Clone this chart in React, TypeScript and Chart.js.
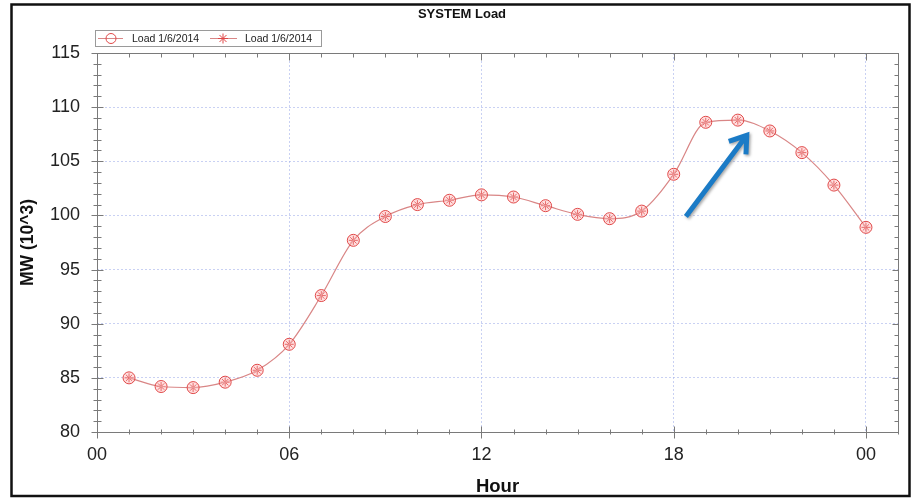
import React, { useEffect, useRef } from "react";
import { Chart, registerables } from "chart.js";

Chart.register(...registerables);

// ---- data ----
const HOURS = [1, 2, 3, 4, 5, 6, 7, 8, 9, 10, 11, 12, 13, 14, 15, 16, 17, 18, 19, 20, 21, 22, 23, 24];
const LOAD = [85.0, 84.2, 84.1, 84.6, 85.7, 88.1, 92.6, 97.7, 99.9, 101.0, 101.4, 101.9, 101.7, 100.9, 100.1, 99.7, 100.4, 103.8, 108.6, 108.8, 107.8, 105.8, 102.8, 98.9];
const SERIES_LABELS = ["Load 1/6/2014", "Load 1/6/2014"];
const X_TICKS = [0, 6, 12, 18, 24];
const X_TICK_LABELS = ["00", "06", "12", "18", "00"];
const X_MIN = 0;
const X_MAX = 25;
const Y_MIN = 80;
const Y_MAX = 115;
const Y_STEP = 5;
const MINOR_STEP = 1;
const X_MAJOR_EVERY = 6;
const TITLE = "SYSTEM Load";
const X_TITLE = "Hour";
const Y_TITLE = "MW (10^3)";
// annotation arrow, in data coordinates [hour, MW]
const ARROW_FROM = [18.38, 99.9];
const ARROW_TO = [20.28, 107.4];

const FONT = "'Liberation Sans', Arial, Helvetica, sans-serif";
const LINE_COLOR = "#d98686";
const MARK_COLOR = "#e04848";
const GRID_COLOR = "rgba(165,178,235,0.6)";
const AXIS_COLOR = "#7a7a7a";

const decorPlugin = {
  id: "decor",
  afterDraw(chart: any) {
    const ctx: CanvasRenderingContext2D = chart.ctx;
    const { left, right, top, bottom } = chart.chartArea;
    const xs = chart.scales.x;
    const ys = chart.scales.y;
    ctx.save();
    // title
    ctx.fillStyle = "#111";
    ctx.font = `bold 13px ${FONT}`;
    ctx.textAlign = "center";
    ctx.textBaseline = "middle";
    ctx.fillText(TITLE, 462, 14.5);

    // axes frame
    ctx.strokeStyle = AXIS_COLOR;
    ctx.lineWidth = 1;
    const L = Math.round(left) + 0.5;
    const R = Math.round(right) + 0.5;
    const T = Math.round(top) + 0.5;
    const B = Math.round(bottom) + 0.5;
    ctx.strokeRect(L, T, R - L, B - T);
    ctx.beginPath();
    for (let h = X_MIN; h <= X_MAX; h += MINOR_STEP) {
      const x = Math.round(xs.getPixelForValue(h)) + 0.5;
      const major = h % X_MAJOR_EVERY === 0;
      const up = major ? 6 : 3;
      const down = major ? 6 : 2;
      ctx.moveTo(x, B - up);
      ctx.lineTo(x, B + down);
      ctx.moveTo(x, T);
      ctx.lineTo(x, T + (major ? 7 : 4));
    }
    for (let v = Y_MIN; v <= Y_MAX; v += MINOR_STEP) {
      const y = Math.round(ys.getPixelForValue(v)) + 0.5;
      const major = v % Y_STEP === 0;
      const out = major ? 6 : 4;
      const inn = major ? 6 : 4;
      ctx.moveTo(L - out, y);
      ctx.lineTo(L + inn, y);
      ctx.moveTo(R, y);
      ctx.lineTo(R - (major ? 6 : 4), y);
    }
    ctx.stroke();

    // legend
    const lx = 95.5, ly = 30.5, lw = 226, lh = 16;
    ctx.strokeStyle = "#9a9a9a";
    ctx.strokeRect(lx, ly, lw, lh);
    const cy = ly + lh / 2;
    const items = [
      { x0: 98, x1: 123, mx: 111, text: 132, style: "circle" },
      { x0: 210, x1: 237, mx: 223, text: 245, style: "star" },
    ];
    chart.data.datasets.forEach((ds: any, i: number) => {
      const it = items[i];
      if (!it) return;
      ctx.strokeStyle = LINE_COLOR;
      ctx.lineWidth = 1;
      ctx.beginPath();
      ctx.moveTo(it.x0, cy);
      ctx.lineTo(it.x1, cy);
      ctx.stroke();
      ctx.strokeStyle = MARK_COLOR;
      ctx.beginPath();
      if (it.style === "circle") {
        ctx.arc(it.mx, cy, 5, 0, Math.PI * 2);
      } else {
        const r = 5;
        ctx.moveTo(it.mx - r, cy);
        ctx.lineTo(it.mx + r, cy);
        ctx.moveTo(it.mx, cy - r);
        ctx.lineTo(it.mx, cy + r);
        const d = r * 0.707;
        ctx.moveTo(it.mx - d, cy - d);
        ctx.lineTo(it.mx + d, cy + d);
        ctx.moveTo(it.mx - d, cy + d);
        ctx.lineTo(it.mx + d, cy - d);
      }
      ctx.stroke();
      ctx.fillStyle = "#222";
      ctx.font = `10.5px ${FONT}`;
      ctx.textBaseline = "middle";
      ctx.textAlign = "left";
      ctx.fillText(ds.label, it.text, cy + 0.5);
    });

    // arrow annotation
    const ax0 = xs.getPixelForValue(ARROW_FROM[0]);
    const ay0 = ys.getPixelForValue(ARROW_FROM[1]);
    const ax1 = xs.getPixelForValue(ARROW_TO[0]);
    const ay1 = ys.getPixelForValue(ARROW_TO[1]);
    const ang = Math.atan2(ay1 - ay0, ax1 - ax0);
    ctx.save();
    ctx.shadowColor = "rgba(0,0,0,0.35)";
    ctx.shadowBlur = 3;
    ctx.shadowOffsetX = 1.5;
    ctx.shadowOffsetY = 1.5;
    ctx.strokeStyle = "#1b7bc6";
    ctx.lineWidth = 5;
    ctx.lineCap = "butt";
    ctx.lineJoin = "miter";
    ctx.beginPath();
    ctx.moveTo(ax0, ay0);
    ctx.lineTo(ax1 - Math.cos(ang) * 3, ay1 - Math.sin(ang) * 3);
    const hl = 19;
    const spread = 0.6;
    ctx.moveTo(ax1 - hl * Math.cos(ang - spread), ay1 - hl * Math.sin(ang - spread));
    ctx.lineTo(ax1, ay1);
    ctx.lineTo(ax1 - hl * Math.cos(ang + spread), ay1 - hl * Math.sin(ang + spread));
    ctx.stroke();
    ctx.restore();

    // outer frame
    ctx.strokeStyle = "#111";
    ctx.lineWidth = 2.5;
    ctx.strokeRect(11.5, 4.5, 898, 491.5);
    ctx.restore();
  },
};

export default function App() {
  const ref = useRef<HTMLCanvasElement>(null);
  useEffect(() => {
    if (!ref.current) return;
    const points = HOURS.map((h, i) => ({ x: h, y: LOAD[i] }));
    const chart = new Chart(ref.current, {
      type: "line",
      data: {
        datasets: [
          {
            label: SERIES_LABELS[0],
            data: points,
            borderColor: LINE_COLOR,
            borderWidth: 1.2,
            cubicInterpolationMode: "monotone",
            pointStyle: "circle",
            pointRadius: 6,
            pointBorderWidth: 1,
            pointBorderColor: MARK_COLOR,
            pointBackgroundColor: "rgba(255,185,185,0.45)",
            fill: false,
          },
          {
            label: SERIES_LABELS[1],
            data: points,
            showLine: false,
            borderColor: LINE_COLOR,
            pointStyle: "star",
            pointRadius: 4.5,
            pointBorderWidth: 1,
            pointBorderColor: "#d42a2a",
            pointBackgroundColor: "#d42a2a",
            fill: false,
          },
        ],
      },
      options: {
        animation: false,
        responsive: false,
        events: [],
        layout: { padding: { left: 0, right: 14, top: 53, bottom: 0 } },
        plugins: {
          legend: { display: false },
          tooltip: { enabled: false },
          title: { display: false },
        },
        scales: {
          x: {
            type: "linear",
            min: X_MIN,
            max: X_MAX,
            afterBuildTicks: (s: any) => {
              s.ticks = X_TICKS.map((v) => ({ value: v }));
            },
            afterFit: (s: any) => {
              s.height = 66;
            },
            ticks: {
              callback: (_v: any, i: number) => X_TICK_LABELS[i],
              font: { family: FONT, size: 18 },
              color: "#222",
              padding: 12,
              maxRotation: 0,
              autoSkip: false,
            },
            grid: { color: GRID_COLOR, drawTicks: false, lineWidth: 1 },
            border: { display: false, dash: [2, 2] },
            title: {
              display: true,
              text: X_TITLE,
              color: "#111",
              font: { family: FONT, size: 18.5, weight: "bold" },
              padding: { top: 0, bottom: 0 },
            },
          },
          y: {
            min: Y_MIN,
            max: Y_MAX,
            afterFit: (s: any) => {
              s.width = 97;
            },
            ticks: {
              stepSize: Y_STEP,
              font: { family: FONT, size: 18 },
              color: "#222",
              padding: 17,
            },
            grid: { color: GRID_COLOR, drawTicks: false, lineWidth: 1 },
            border: { display: false, dash: [2, 2] },
            title: {
              display: true,
              text: Y_TITLE,
              color: "#111",
              font: { family: FONT, size: 17.5, weight: "bold" },
              padding: { top: 18, bottom: 0 },
            },
          },
        },
      },
      plugins: [decorPlugin],
    } as any);
    return () => chart.destroy();
  }, []);
  return (
    <div style={{ position: "fixed", left: 0, top: 0, width: 912, height: 498, background: "#fff" }}>
      <canvas ref={ref} width={912} height={498} style={{ display: "block", width: 912, height: 498 }} />
    </div>
  );
}
